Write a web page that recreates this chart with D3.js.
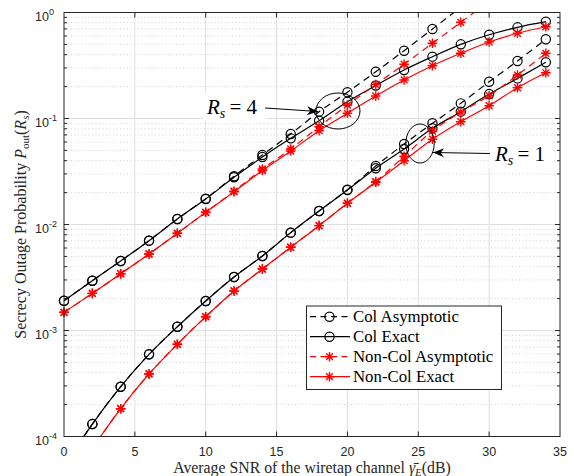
<!DOCTYPE html>
<html><head><meta charset="utf-8">
<script src="https://cdn.jsdelivr.net/npm/d3@7"></script>
<style>body{margin:0;background:#fff} svg{display:block}</style>
</head><body>
<svg id="c" width="574" height="476"></svg>
<script>
// ---------- data ----------
const snr = [0,2,4,6,8,10,12,14,16,18,20,22,24,26,28,30,32,34];
const colExact4    = [1.91e-3,2.95e-3,4.53e-3,7.04e-3,0.01127,0.0174,0.0279,0.0433,0.065,0.0953,0.144,0.205,0.287,0.383,0.501,0.617,0.725,0.819];
const colAsym4     = [1.91e-3,2.95e-3,4.53e-3,7.04e-3,0.01127,0.0175,0.0285,0.0453,0.0714,0.116,0.177,0.276,0.436,0.699,1.12];
const nonColExact4 = [1.485e-3,2.24e-3,3.43e-3,5.27e-3,8.26e-3,0.01303,0.0204,0.0323,0.0493,0.0767,0.112,0.163,0.231,0.315,0.412,0.527,0.637,0.734];
const nonColAsym4  = [1.485e-3,2.24e-3,3.43e-3,5.27e-3,8.26e-3,0.01303,0.0206,0.0334,0.0516,0.0837,0.134,0.209,0.325,0.512,0.808,1.28];
const colExact1    = [5.2e-5,1.31e-4,2.95e-4,5.96e-4,1.086e-3,1.9e-3,3.2e-3,5.05e-3,8.38e-3,0.01341,0.02114,0.0339,0.0515,0.0808,0.116,0.17,0.239,0.339];
const colAsym1     = [5.2e-5,1.31e-4,2.95e-4,5.96e-4,1.086e-3,1.9e-3,3.2e-3,5.05e-3,8.38e-3,0.01341,0.0213,0.0356,0.0575,0.0901,0.139,0.222,0.349,0.559];
const nonColExact1 = [3.0e-5,7.7e-5,1.83e-4,3.89e-4,7.41e-4,1.35e-3,2.36e-3,3.8e-3,6.1e-3,9.75e-3,0.01585,0.025,0.04,0.0637,0.0933,0.132,0.195,0.27];
const nonColAsym1  = [3.0e-5,7.7e-5,1.83e-4,3.89e-4,7.41e-4,1.35e-3,2.36e-3,3.8e-3,6.1e-3,9.75e-3,0.0159,0.0254,0.044,0.0762,0.115,0.164,0.257,0.412];
const xTicks = [0,5,10,15,20,25,30,35];
const yDecades = [-4,-3,-2,-1,0];
const legendLabels = ["Col Asymptotic","Col Exact","Non-Col Asymptotic","Non-Col Exact"];

// ---------- layout ----------
const svg = d3.select("#c");
const x = d3.scaleLinear().domain([0,35]).range([64,560]);
const y = d3.scaleLog().domain([1e-4,1]).range([436.5,12.5]);
const axisCol = "#262626";

svg.append("defs").append("clipPath").attr("id","clip")
  .append("rect").attr("x",64).attr("y",12.5).attr("width",496).attr("height",424);

// grid
const grid = svg.append("g");
const minorVals = [];
yDecades.slice(0,-1).forEach(d=>{for(let k=2;k<=9;k++) minorVals.push(k*Math.pow(10,d));});
grid.selectAll(".mn").data(minorVals).join("line")
  .attr("x1",64).attr("x2",560).attr("y1",d=>y(d)).attr("y2",d=>y(d))
  .attr("stroke","#cfcfcf").attr("stroke-width",1).attr("stroke-dasharray","1,2.5");
grid.selectAll(".mj").data(yDecades.slice(1,-1)).join("line")
  .attr("x1",64).attr("x2",560).attr("y1",d=>y(Math.pow(10,d))).attr("y2",d=>y(Math.pow(10,d)))
  .attr("stroke","#dfdfdf").attr("stroke-width",1);
grid.selectAll(".vx").data(xTicks.slice(1,-1)).join("line")
  .attr("x1",d=>x(d)).attr("x2",d=>x(d)).attr("y1",12.5).attr("y2",436.5)
  .attr("stroke","#dfdfdf").attr("stroke-width",1);

// series
const series = [
  {v:colAsym4, color:"#000", dash:"7,5", mk:"o"},
  {v:colExact4, color:"#000", dash:null, mk:"o"},
  {v:nonColAsym4, color:"#ff0000", dash:"7,5", mk:"*"},
  {v:nonColExact4, color:"#ff0000", dash:null, mk:"*"},
  {v:colAsym1, color:"#000", dash:"7,5", mk:"o"},
  {v:colExact1, color:"#000", dash:null, mk:"o"},
  {v:nonColAsym1, color:"#ff0000", dash:"7,5", mk:"*"},
  {v:nonColExact1, color:"#ff0000", dash:null, mk:"*"}
];
const line = d3.line().x(d=>x(d[0])).y(d=>y(d[1])).curve(d3.curveMonotoneX);
const star = "M-4.8,0L4.8,0M0,-4.8L0,4.8M-3.4,-3.4L3.4,3.4M-3.4,3.4L3.4,-3.4";
function marker(g, mk, color, cx, cy){
  if(mk==="o") g.append("circle").attr("cx",cx).attr("cy",cy).attr("r",4.6)
     .attr("fill","none").attr("stroke",color).attr("stroke-width",1.2);
  else g.append("path").attr("d",star).attr("transform",`translate(${cx},${cy})`)
     .attr("fill","none").attr("stroke",color).attr("stroke-width",1.4);
}
const plot = svg.append("g");
series.forEach(s=>{
  const pts = s.v.map((v,i)=>[snr[i],v]);
  plot.append("path").attr("clip-path","url(#clip)").attr("d",line(pts))
    .attr("fill","none").attr("stroke",s.color).attr("stroke-width",1.2)
    .attr("stroke-dasharray",s.dash);
  const mg = plot.append("g");
  pts.filter(p=>p[1]>=1e-4 && p[1]<=1).forEach(p=>marker(mg,s.mk,s.color,x(p[0]),y(p[1])));
});

// axes box + ticks
const ax = svg.append("g").attr("stroke",axisCol).attr("fill","none");
ax.append("rect").attr("x",64).attr("y",12.5).attr("width",496).attr("height",424).attr("stroke-width",1);
xTicks.slice(1,-1).forEach(t=>{
  ax.append("line").attr("x1",x(t)).attr("x2",x(t)).attr("y1",436.5).attr("y2",431.5);
  ax.append("line").attr("x1",x(t)).attr("x2",x(t)).attr("y1",12.5).attr("y2",17.5);
});
yDecades.forEach(d=>{
  const yy=y(Math.pow(10,d));
  ax.append("line").attr("x1",64).attr("x2",69).attr("y1",yy).attr("y2",yy);
  ax.append("line").attr("x1",560).attr("x2",555).attr("y1",yy).attr("y2",yy);
});
minorVals.forEach(v=>{
  const yy=y(v);
  ax.append("line").attr("x1",64).attr("x2",67).attr("y1",yy).attr("y2",yy);
  ax.append("line").attr("x1",560).attr("x2",557).attr("y1",yy).attr("y2",yy);
});

// tick labels
const tl = svg.append("g").attr("font-family","'Liberation Sans',Arial,sans-serif").attr("fill",axisCol);
tl.selectAll(".xt").data(xTicks).join("text").attr("x",d=>x(d)).attr("y",455.5)
  .attr("text-anchor","middle").attr("font-size",12.5).text(d=>d);
yDecades.forEach(d=>{
  const t = tl.append("text").attr("x",35).attr("y",y(Math.pow(10,d))+8.8).attr("font-size",12.5);
  t.append("tspan").text("10");
  t.append("tspan").attr("dy",-6).attr("font-size",9).text(d===0?"0":"-"+(-d));
});

// axis titles
const serif = "'Liberation Serif','Times New Roman',serif";
const xl = svg.append("text").attr("x",312).attr("y",472.5).attr("text-anchor","middle")
  .attr("font-family",serif).attr("font-size",15.8).attr("fill",axisCol);
xl.append("tspan").text("Average SNR of the wiretap channel ");
xl.append("tspan").attr("font-style","italic").text("γ\u0304");
xl.append("tspan").attr("font-style","italic").attr("font-size",11).attr("dy",3).text("E");
xl.append("tspan").attr("dy",-3).text("(dB)");

const yl = svg.append("text").attr("transform","translate(26,224.5) rotate(-90)").attr("text-anchor","middle")
  .attr("font-family",serif).attr("font-size",16).attr("fill",axisCol);
yl.append("tspan").text("Secrecy Outage Probability ");
yl.append("tspan").attr("font-style","italic").text("P");
yl.append("tspan").attr("font-size",11).attr("dy",3).text("out");
yl.append("tspan").attr("dy",-3).text("(");
yl.append("tspan").attr("font-style","italic").text("R");
yl.append("tspan").attr("font-style","italic").attr("font-size",11).attr("dy",3).text("s");
yl.append("tspan").attr("dy",-3).text(")");

// annotations
const ann = svg.append("g");
ann.append("ellipse").attr("cx",338).attr("cy",111).attr("rx",22).attr("ry",18)
  .attr("fill","none").attr("stroke","#000").attr("stroke-width",1);
ann.append("ellipse").attr("cx",420).attr("cy",143.5).attr("rx",14.2).attr("ry",19.5)
  .attr("fill","none").attr("stroke","#000").attr("stroke-width",1);
function arrow(x1,y1,x2,y2){
  ann.append("line").attr("x1",x1).attr("y1",y1).attr("x2",x2).attr("y2",y2).attr("stroke","#000").attr("stroke-width",1);
  const a = Math.atan2(y2-y1,x2-x1), L=11, w=4.5;
  const bx = x2-L*Math.cos(a), by = y2-L*Math.sin(a);
  const mx = x2-0.7*L*Math.cos(a), my = y2-0.7*L*Math.sin(a);
  ann.append("path").attr("d",`M${x2},${y2}L${bx+w*Math.sin(a)},${by-w*Math.cos(a)}L${mx},${my}L${bx-w*Math.sin(a)},${by+w*Math.cos(a)}Z`).attr("fill","#000");
}
function rlabel(xx,yy,val,bx,by,bw,bh){
  ann.append("rect").attr("x",bx).attr("y",by).attr("width",bw).attr("height",bh).attr("fill","#fff");
  const t = ann.append("text").attr("x",xx).attr("y",yy).attr("font-family",serif).attr("font-size",21).attr("fill","#000");
  t.append("tspan").attr("font-style","italic").text("R");
  t.append("tspan").attr("font-style","italic").attr("font-size",14).attr("dy",4).text("s");
  t.append("tspan").attr("dy",-4).attr("xml:space","preserve").text("\u2009= "+val);
}
rlabel(207,114,"4",203,93,63,28);
arrow(265,108,318,111.5);
rlabel(495,161,"1",489,141,64,28);
arrow(490,153.5,433,152.5);

// legend
const lg = svg.append("g");
lg.append("rect").attr("x",306.5).attr("y",306).attr("width",195).attr("height",83.5)
  .attr("fill","#fff").attr("stroke","#262626").attr("stroke-width",1);
const legSeries = series.slice(0,4);
legendLabels.forEach((lab,i)=>{
  const yy = 316.7 + i*20;
  const s = legSeries[i];
  lg.append("line").attr("x1",310).attr("x2",350).attr("y1",yy).attr("y2",yy)
    .attr("stroke",s.color).attr("stroke-width",1.2).attr("stroke-dasharray",s.dash?"6,4.5":null);
  marker(lg,s.mk,s.color,329.5,yy);
  lg.append("text").attr("x",353).attr("y",yy+5.5).attr("font-family",serif).attr("font-size",16.8).attr("fill","#000").text(lab);
});
</script>
</body></html>
